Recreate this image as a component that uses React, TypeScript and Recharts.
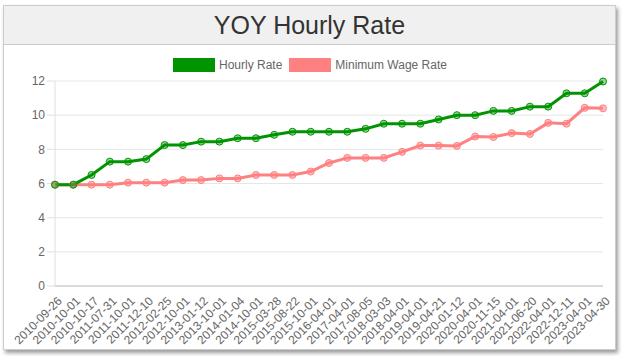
import React from "react";
import { LineChart, Line, XAxis, YAxis, CartesianGrid } from "recharts";

const categories = [
  "2010-09-26", "2010-10-01", "2010-10-17", "2011-07-31", "2011-10-01", "2011-12-10",
  "2012-02-25", "2012-10-01", "2013-01-12", "2013-10-01", "2014-01-04", "2014-10-01",
  "2015-03-28", "2015-08-22", "2015-10-01", "2016-04-01", "2017-04-01", "2017-08-05",
  "2018-03-03", "2018-04-01", "2019-04-01", "2019-04-21", "2020-01-12", "2020-04-01",
  "2020-11-15", "2021-04-01", "2021-06-20", "2022-04-01", "2022-12-11", "2023-04-01",
  "2023-04-30",
];

const hourlyRate = [
  5.93, 5.93, 6.5, 7.28, 7.28, 7.43, 8.25, 8.25, 8.45, 8.45, 8.65, 8.65, 8.85, 9.03, 9.03,
  9.03, 9.03, 9.2, 9.5, 9.5, 9.5, 9.75, 10.0, 10.0, 10.25, 10.25, 10.5, 10.5, 11.28, 11.28,
  11.97,
];

const minimumWage = [
  5.93, 5.93, 5.93, 5.93, 6.05, 6.05, 6.05, 6.2, 6.2, 6.3, 6.3, 6.5, 6.5, 6.5, 6.7, 7.2,
  7.5, 7.5, 7.5, 7.85, 8.22, 8.22, 8.2, 8.75, 8.72, 8.95, 8.9, 9.55, 9.5, 10.43, 10.4,
];

const yTicks = [0, 2, 4, 6, 8, 10, 12];

const GREEN = "#009400";
const RED = "#ff8080";

const data = categories.map((c, i) => ({
  date: c,
  hourly: hourlyRate[i],
  minWage: minimumWage[i],
}));

const XTick = (props: any) => {
  const { x, y, payload } = props;
  return (
    <g transform={`translate(${x + 2},${y + 2})`}>
      <text
        x={0}
        y={0}
        dy={8}
        textAnchor="end"
        transform="rotate(-45)"
        fill="#666"
        fontSize={12}
        fontFamily="Arial, 'Liberation Sans', sans-serif"
      >
        {payload.value}
      </text>
    </g>
  );
};

const makeDot = (color: string, fill: string) => (props: any) => {
  const { cx, cy, index } = props;
  if (cx == null || cy == null) return <g key={index} />;
  return (
    <circle key={index} cx={cx} cy={cy} r={3.5} fill={fill} stroke={color} strokeWidth={1} />
  );
};

export default function App() {
  const font = "Arial, 'Liberation Sans', sans-serif";
  return (
    <div style={{ position: "absolute", left: 0, top: 0, width: 624, height: 356, background: "#fff", fontFamily: font }}>
      <div
        style={{
          position: "absolute",
          left: 3,
          top: 5,
          width: 613,
          height: 345,
          boxSizing: "border-box",
          border: "1px solid #cccccc",
          background: "#fff",
          boxShadow: "2px 3px 4px rgba(0,0,0,0.4)",
        }}
      >
        <div
          style={{
            height: 39,
            boxSizing: "border-box",
            background: "#f0f0f0",
            borderBottom: "1px solid #cccccc",
            textAlign: "center",
            fontSize: 25,
            lineHeight: "38px",
            color: "#333",
          }}
        >
          YOY Hourly Rate
        </div>
        <div
          style={{
            position: "absolute",
            top: 52,
            left: 169,
            display: "flex",
            alignItems: "center",
            fontSize: 12,
            color: "#666",
          }}
        >
          <span style={{ display: "inline-block", width: 40, height: 12, background: GREEN, border: `1px solid ${GREEN}` }} />
          <span style={{ marginLeft: 4 }}>Hourly Rate</span>
          <span style={{ display: "inline-block", width: 40, height: 12, background: RED, border: `1px solid ${RED}`, marginLeft: 7 }} />
          <span style={{ marginLeft: 4 }}>Minimum Wage Rate</span>
        </div>
        <div style={{ position: "absolute", left: -1, top: 38 }}>
          <LineChart
            width={612}
            height={306}
            data={data}
            margin={{ top: 37, right: 12, left: 0, bottom: 0 }}
          >
            <CartesianGrid vertical={false} stroke="#e6e6e6" strokeWidth={1} />
            <XAxis
              dataKey="date"
              interval={0}
              height={64}
              tick={<XTick />}
              tickLine={false}
              axisLine={{ stroke: "#bfbfbf" }}
            />
            <YAxis
              domain={[0, 12]}
              ticks={yTicks}
              width={52}
              tickSize={8}
              tickMargin={2}
              tickLine={{ stroke: "#e0e0e0" }}
              axisLine={{ stroke: "#e0e0e0" }}
              tick={{ fill: "#666", fontSize: 12, fontFamily: font }}
            />
            <Line
              type="linear"
              dataKey="minWage"
              stroke={RED}
              strokeWidth={3}
              dot={makeDot(RED, "rgba(255,128,128,0.5)")}
              isAnimationActive={false}
            />
            <Line
              type="linear"
              dataKey="hourly"
              stroke={GREEN}
              strokeWidth={3}
              dot={makeDot(GREEN, "rgba(0,148,0,0.4)")}
              isAnimationActive={false}
            />
          </LineChart>
        </div>
      </div>
    </div>
  );
}
